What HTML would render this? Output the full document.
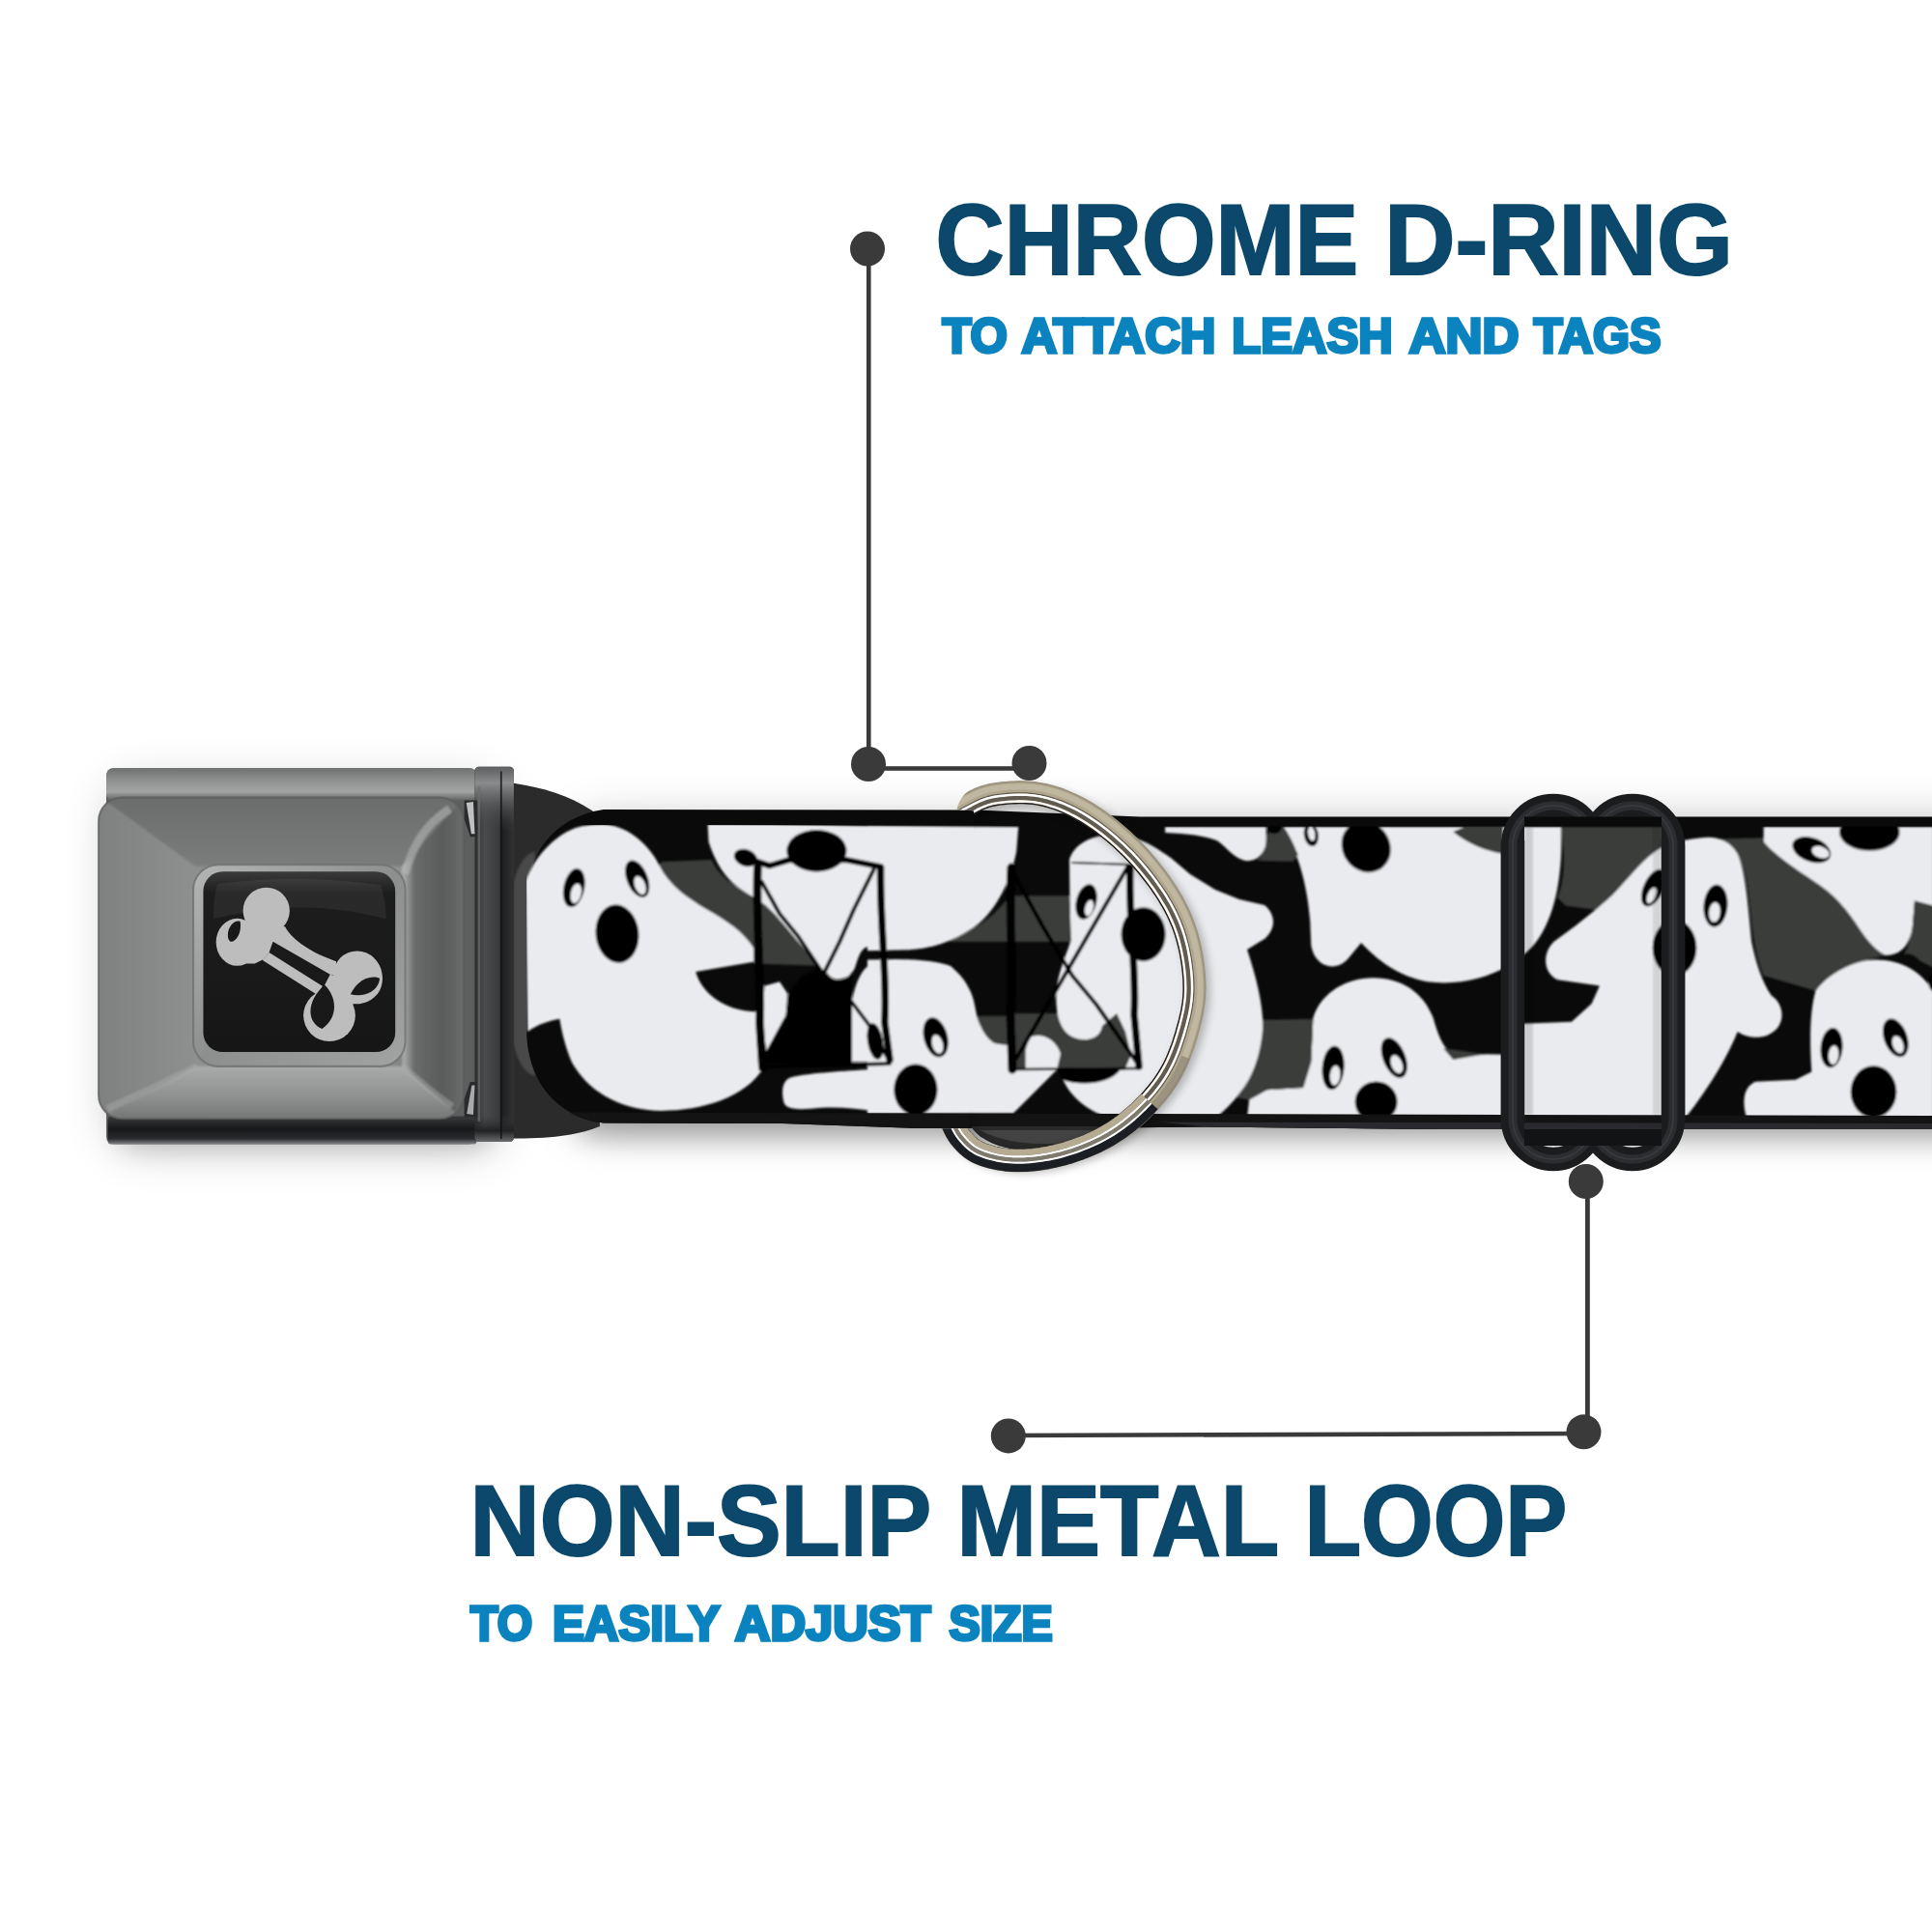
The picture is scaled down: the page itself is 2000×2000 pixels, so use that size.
<!DOCTYPE html>
<html lang="en">
<head>
<meta charset="utf-8">
<title>Chrome D-Ring / Non-Slip Metal Loop</title>
<style>
html,body{margin:0;padding:0;background:#fff;}
body{width:2000px;height:2000px;overflow:hidden;font-family:"Liberation Sans",sans-serif;}
svg{display:block;}
.t1{font-family:"Liberation Sans",sans-serif;font-weight:700;fill:#0b486b;stroke:#0b486b;stroke-width:2px;stroke-linejoin:miter;}
.t2{font-family:"Liberation Sans",sans-serif;font-weight:700;fill:#0a83bf;stroke:#0a83bf;stroke-width:3.4px;stroke-linejoin:miter;}
</style>
</head>
<body>
<svg width="2000" height="2000" viewBox="0 0 2000 2000">
<defs>
<filter id="blur28" x="-20%" y="-60%" width="140%" height="220%"><feGaussianBlur stdDeviation="26"/></filter>
<filter id="blur14" x="-20%" y="-60%" width="140%" height="220%"><feGaussianBlur stdDeviation="13"/></filter>
<filter id="b2" x="-10%" y="-10%" width="120%" height="120%"><feGaussianBlur stdDeviation="1.6"/></filter>
<filter id="b1" x="-10%" y="-10%" width="120%" height="120%"><feGaussianBlur stdDeviation="1.25"/></filter>
<filter id="b4" x="-10%" y="-10%" width="120%" height="120%"><feGaussianBlur stdDeviation="4"/></filter>
<linearGradient id="gTopStrip" x1="0" y1="0" x2="0" y2="1">
<stop offset="0" stop-color="#6f7070"/><stop offset="0.35" stop-color="#8d8e8e"/><stop offset="0.72" stop-color="#a3a4a4"/><stop offset="1" stop-color="#5e5f5f"/>
</linearGradient>
<linearGradient id="gBotStrip" x1="0" y1="0" x2="0" y2="1">
<stop offset="0" stop-color="#3a3b3c"/><stop offset="0.45" stop-color="#17181a"/><stop offset="0.8" stop-color="#2a2b2e"/><stop offset="1" stop-color="#85888c"/>
</linearGradient>
<linearGradient id="gFace" x1="0" y1="0" x2="1" y2="1">
<stop offset="0" stop-color="#8b8c8c"/><stop offset="0.5" stop-color="#909191"/><stop offset="1" stop-color="#7f8080"/>
</linearGradient>
<linearGradient id="gBevT" x1="0" y1="0" x2="0" y2="1">
<stop offset="0" stop-color="#6a6b6b"/><stop offset="1" stop-color="#7b7c7c"/>
</linearGradient>
<linearGradient id="gBevB" x1="0" y1="0" x2="0" y2="1">
<stop offset="0" stop-color="#a9aaaa"/><stop offset="0.55" stop-color="#8e8f8f"/><stop offset="1" stop-color="#6c6d6d"/>
</linearGradient>
<linearGradient id="gBevL" x1="0" y1="0" x2="1" y2="0">
<stop offset="0" stop-color="#7e7f7f"/><stop offset="1" stop-color="#8e8f8f"/>
</linearGradient>
<linearGradient id="gBevR" x1="0" y1="0" x2="1" y2="0">
<stop offset="0" stop-color="#b0b1b1"/><stop offset="0.18" stop-color="#6a6b6b"/><stop offset="0.6" stop-color="#5a5b5b"/><stop offset="1" stop-color="#6f7070"/>
</linearGradient>
<linearGradient id="gConn" x1="0" y1="0" x2="1" y2="0">
<stop offset="0" stop-color="#2a2b2c"/><stop offset="0.25" stop-color="#4a4b4c"/><stop offset="0.62" stop-color="#3b3c3d"/><stop offset="0.7" stop-color="#1d1e1f"/><stop offset="1" stop-color="#303132"/>
</linearGradient>
<linearGradient id="gConnTop" x1="0" y1="0" x2="0" y2="1">
<stop offset="0" stop-color="#5d5e5f"/><stop offset="0.25" stop-color="#8a8b8c"/><stop offset="0.6" stop-color="#5a5b5c" stop-opacity="0.7"/><stop offset="1" stop-color="#3b3c3d" stop-opacity="0"/>
</linearGradient>
<linearGradient id="gConnBot" x1="0" y1="0" x2="0" y2="1">
<stop offset="0" stop-color="#3b3c3d" stop-opacity="0"/><stop offset="0.6" stop-color="#202122"/><stop offset="1" stop-color="#6a6b6d"/>
</linearGradient>
<linearGradient id="gRingIn" x1="0" y1="0" x2="1" y2="1">
<stop offset="0" stop-color="#b4b5b5"/><stop offset="0.5" stop-color="#8d8e8e"/><stop offset="1" stop-color="#a2a3a3"/>
</linearGradient>
<linearGradient id="gBlackSq" x1="0" y1="0" x2="0" y2="1">
<stop offset="0" stop-color="#3a3a3a"/><stop offset="0.12" stop-color="#1d1d1d"/><stop offset="1" stop-color="#161616"/>
</linearGradient>
<clipPath id="padClip"><rect x="85" y="215" width="1460" height="1285" rx="95" ry="95"/></clipPath>
<clipPath id="sliderInner"><rect x="1578" y="845" width="142" height="325"/></clipPath>
<clipPath id="strapClip"><path d="M545,854 L1010,854.5 L1180,855.5 L2000,855.5 L2000,1155 L545,1151.5 Z"/></clipPath>
</defs>
<rect width="2000" height="2000" fill="#ffffff"/>
<g>
<rect x="600" y="856" width="1500" height="306" fill="#000" opacity="0.34" filter="url(#blur28)"/>
<rect x="600" y="1110" width="1500" height="68" fill="#000" opacity="0.22" filter="url(#blur14)"/>
<rect x="118" y="815" width="395" height="370" rx="20" fill="#000" opacity="0.24" filter="url(#blur28)"/>
<rect x="125" y="1130" width="380" height="58" fill="#000" opacity="0.14" filter="url(#blur14)"/>
</g>
<g transform="translate(80,770) scale(0.2588)">
<!-- dark plastic tongue -->
<path d="M1700,150 L1790,165 C1900,185 2010,225 2090,290 L2090,1530 C2000,1565 1900,1582 1700,1578 Z" fill="#2b2b2b"/>
<path d="M1745,560 C1765,470 1800,440 1830,430 L1830,1330 C1800,1320 1765,1290 1745,1200 Z" fill="#4a4a4a" filter="url(#b4)"/>
</g>
<g id="strapArt">
<g>
<!-- strap base (black webbing) -->
<path d="M545,935 C545,885 572,846 625,838 L1010,838.5 L1180,845.5 L2000,845.5 L2000,1169 L1490,1169 L1250,1166.5 L1100,1168 L950,1168 L810,1163 L625,1162.5 C575,1156 545,1118 545,1065 Z" fill="#0a0a0a"/>
<path d="M590,1151.5 L2000,1155 L2000,1169 L1490,1169 L1250,1166.5 L1100,1168 L950,1168 L810,1163 L625,1162.5 C610,1161 598,1157 590,1151.5 Z" fill="#131313"/>
<path d="M1200,1161.5 L2000,1163 L2000,1169 L1490,1169 L1250,1166.5 Z" fill="#2a2a2e"/>
</g>
<g clip-path="url(#strapClip)">
<g filter="url(#b1)">
<!-- WHITES -->
<g fill="#eaebee">
<g transform="translate(540,830) scale(0.20704)">
<path d="M400,112 C520,115 630,200 690,320 C740,420 830,480 930,540 C1020,590 1110,650 1160,730 L1160,800 L870,850 C900,950 1000,1045 1180,1050 L1210,1330 C1120,1480 900,1545 700,1545 C500,1545 330,1450 250,1300 C220,1230 200,1150 190,1085 C140,1095 80,1110 30,1150 L20,400 C60,280 160,170 270,130 C310,118 360,112 400,112 Z"/>
<path d="M1215,920 L1290,900 L1330,960 L1320,1080 L1260,1200 L1225,1250 L1200,1100 Z"/>
<path d="M1940,1330 L1700,1340 C1550,1350 1400,1360 1340,1380 C1300,1400 1300,1450 1310,1500 C1320,1545 1400,1540 1500,1530 C1650,1520 1800,1560 1940,1560 Z"/>
<path d="M930,105 L1940,125 L1940,740 L1760,720 C1700,720 1690,760 1670,820 C1650,890 1560,910 1530,860 L1480,830 L1400,740 C1330,640 1250,530 1180,490 C1100,440 1000,400 935,200 Z"/>
<path d="M1940,790 L1760,800 C1700,830 1670,900 1650,1000 L1650,1300 L1940,1300 Z"/>
</g>
<g transform="translate(900,830) scale(0.20704)">
<path d="M-10,120 L745,125 L735,250 C700,420 620,560 520,630 C420,700 300,735 200,740 L-10,745 Z"/>
<path d="M-10,790 L100,788 C250,785 350,800 406,821 C450,860 475,890 488,915 C515,960 525,1000 531,1040 C540,1090 550,1110 563,1134 C580,1170 600,1190 624,1206 L694,1215 L781,1230 L800,1180 C850,1150 930,1180 956,1259 L937,1340 L719,1558 L-10,1560 Z"/>
</g>
<path fill="#3b3c3b" d="M1050,1049 L1094,1049 L1094,1030 L1150,1030 L1157,1049 L1166,1068 L1172,1092 L1165,1108 L1050,1108 Z"/>
<path d="M1107,890 C1112,872 1135,862 1160,864 C1185,868 1200,880 1212,888 L1232,905 L1258,921 L1283,931 L1309,937 C1320,946 1322,960 1309,972 L1291,983 C1300,1010 1308,1040 1307.6,1068 C1306,1100 1291,1130 1258,1158 L1150,1158 C1125,1150 1108,1135 1100,1117 L1096,1108 L1164,1108 L1171,1092 L1165,1068 L1156,1049 L1141,1062 C1139,1078 1117,1080 1105,1070 C1094,1060 1092,1040 1094,1020 C1098,1000 1105,985 1108,975 Z"/>
<g transform="translate(900,830) scale(0.20704)"><path d="M781,1240 L800,1180 C850,1150 930,1180 956,1259 L937,1340 L781,1340 Z"/></g>

<g transform="translate(1260,830) scale(0.20704)">
<path d="M-260,125 L245,125 L245,205 C235,270 190,300 140,295 C80,280 50,230 0,195 C-60,170 -150,160 -260,155 Z"/>
<path d="M330,125 C400,250 450,400 465,600 L470,720 C490,830 590,850 650,790 L720,705 C800,790 900,870 1050,900 C1250,925 1450,860 1580,720 C1680,600 1730,400 1720,125 Z"/>
<path d="M480,1080 C520,950 650,880 780,880 C920,880 1030,950 1080,1080 C1100,1150 1120,1220 1180,1270 L1340,1262 L1700,1270 L1700,1580 L150,1580 L160,1490 L250,1440 L430,1430 L470,1300 Z"/>
</g>

<g transform="translate(1600,830) scale(0.20704)">
<path d="M600,220 C500,260 420,380 330,470 L250,540 L150,620 L40,700 C-20,760 -10,860 60,890 L270,920 L230,1010 L130,1100 L-120,1110 L-120,1580 L700,1580 C800,1450 900,1300 960,1150 C1000,1180 1100,1200 1160,1130 C1200,1080 1180,1000 1130,970 C1080,900 1050,800 1030,700 C1010,500 1000,350 960,260 C920,190 850,170 780,180 C700,190 640,200 600,220 Z"/>
<path d="M1090,125 L1940,125 L1940,520 L1845,495 L1835,620 C1825,720 1770,770 1700,768 C1640,740 1590,670 1546,601 C1510,550 1470,500 1415,452 C1380,420 1330,390 1265,346 C1200,300 1120,240 1090,200 Z"/>
<path d="M1350,945 C1420,850 1550,790 1650,790 C1780,790 1880,850 1940,950 L1940,1580 L1005,1580 C980,1500 990,1420 1050,1400 L1250,1390 L1330,1350 C1320,1200 1320,1050 1350,945 Z"/>
</g>

</g>
<!-- GREYS -->
<g fill="#3b3c3b">
<g transform="translate(540,830) scale(0.20704)">
<path d="M700,300 L950,290 C1000,400 1100,440 1180,490 C1280,560 1380,700 1480,820 L1160,810 L1160,730 C1110,650 1020,590 930,540 C830,480 740,420 690,320 Z"/>
</g>
<g transform="translate(900,830) scale(0.20704)">
<path d="M700,470 L1000,470 L1010,700 L400,700 C520,650 640,560 700,470 Z"/>
<path d="M536,1071 L694,1071 L694,1215 C660,1215 640,1210 624,1206 C600,1190 580,1170 563,1134 Z"/>

</g>


<g transform="translate(1260,830) scale(0.20704)">
<path d="M245,160 L335,128 C370,180 390,230 405,265 L380,300 L200,295 C235,270 250,220 245,160 Z"/>
<path d="M1180,150 L1250,120 L1430,120 L1430,260 C1350,250 1250,210 1180,150 Z"/>
<path d="M230,1090 L480,1085 L470,1300 L430,1430 L250,1440 L160,1490 L100,1480 C180,1380 225,1250 230,1090 Z"/>
<path d="M1130,1232 L1340,1262 L1180,1290 Z"/>
</g>

<g transform="translate(1600,830) scale(0.20704)">
<path d="M80,125 L600,125 L600,220 C500,260 420,380 330,470 L250,540 L100,520 L60,480 C90,400 100,300 80,125 Z"/>
<path d="M870,185 L1090,180 L1090,200 C1120,240 1200,300 1265,346 C1330,390 1380,420 1415,452 C1470,500 1510,550 1546,601 C1590,670 1640,740 1700,770 C1550,790 1420,850 1350,945 L1090,870 C1060,800 1040,700 1030,600 C1015,450 1000,330 960,260 C940,220 900,195 870,185 Z"/>
<path d="M1845,495 L1940,520 L1940,830 L1880,800 C1850,780 1830,750 1790,765 C1820,720 1835,650 1835,620 Z"/>
</g>

</g>
<!-- BLACKS -->
<g fill="#050505" stroke="#050505" stroke-width="0">
<g transform="translate(540,830) scale(0.20704)">
<ellipse cx="262" cy="430" rx="52" ry="98" transform="rotate(12 262 430)"/>
<ellipse cx="578" cy="385" rx="52" ry="98" transform="rotate(-22 578 385)"/>
<ellipse cx="478" cy="660" rx="108" ry="146" transform="rotate(-6 478 660)"/>
<ellipse cx="272" cy="458" rx="26" ry="50" transform="rotate(12 272 458)" fill="#eaebee"/>
<ellipse cx="592" cy="418" rx="26" ry="48" transform="rotate(-22 592 418)" fill="#eaebee"/>
<ellipse cx="1475" cy="245" rx="150" ry="105"/>
<ellipse cx="1120" cy="280" rx="60" ry="42" transform="rotate(20 1120 280)"/>
<path d="M1335,960 L1400,870 L1480,835 L1530,865 C1560,905 1620,905 1650,850 L1650,1310 L1200,1310 L1230,1255 L1265,1200 L1320,1080 Z"/>
<g fill="none" stroke-linecap="round" stroke-linejoin="round">
<path d="M1180,330 C1170,600 1200,900 1190,1100 L1205,1330" stroke-width="42"/>
<path d="M1795,330 C1790,600 1830,900 1815,1100 L1840,1290" stroke-width="36"/>
<path d="M1120,280 L1240,320 L1340,290 L1620,290 L1795,325" stroke-width="30"/>
<path d="M1205,1325 L1840,1310" stroke-width="18"/>
<path d="M1200,400 L1290,560 L1380,670 L1500,850" stroke-width="20"/>
<path d="M1760,340 L1660,540 L1590,700 L1515,850" stroke-width="20"/>
<path d="M1650,1000 L1740,1120 L1830,1280" stroke-width="18"/>
<path d="M1320,1080 L1225,1255" stroke-width="12"/>
</g>
</g>
<ellipse cx="947.9" cy="1128.1" rx="22.6" ry="26.5"/>
<ellipse cx="968.6" cy="1073.8" rx="12.3" ry="21" transform="rotate(-15 968.6 1073.8)"/>
<ellipse cx="970.5" cy="1081" rx="5.5" ry="10" transform="rotate(-15 970.5 1081)" fill="#eaebee"/>
<ellipse cx="906" cy="1078" rx="8" ry="19" transform="rotate(-10 906 1078)"/>
<ellipse cx="1124.5" cy="933.5" rx="10.5" ry="18.5" transform="rotate(14 1124.5 933.5)"/>
<ellipse cx="1127.5" cy="940" rx="4.2" ry="8.5" transform="rotate(14 1127.5 940)" fill="#eaebee"/>
<ellipse cx="1183.6" cy="967.2" rx="23" ry="28"/>
<path d="M1094,1107 L1160,1107 C1150,1122 1120,1125 1100,1118 Z"/>
<g fill="none" stroke-linecap="round" stroke-linejoin="round">
<path d="M1047,898 C1044,950 1050,1010 1046,1050 L1048,1107" stroke-width="9"/>
<path d="M1170,898 C1168,950 1177,1010 1174,1050 L1179,1104" stroke-width="7.5"/>
<path d="M1110,893 L1170,895" stroke-width="2.2"/>
<path d="M1048,1107 L1178,1106" stroke-width="2.6"/>
<path d="M1048,902 L1080,960 L1110,1010 L1135,1040 L1177,1100" stroke-width="4.2"/>
<path d="M1167,898 L1052,1096" stroke-width="4.2"/>
</g>

<g transform="translate(1260,830) scale(0.20704)">
<ellipse cx="745" cy="225" rx="118" ry="132" transform="rotate(-35 745 225)"/>
<ellipse cx="470" cy="165" rx="36" ry="58" transform="rotate(-10 470 165)"/>
<ellipse cx="472" cy="160" rx="17" ry="36" transform="rotate(-10 472 160)" fill="#eaebee"/>
<ellipse cx="285" cy="135" rx="35" ry="25"/>
<ellipse cx="580" cy="1330" rx="55" ry="110" transform="rotate(5 580 1330)"/>
<ellipse cx="590" cy="1368" rx="25" ry="50" transform="rotate(5 590 1368)" fill="#eaebee"/>
<ellipse cx="885" cy="1280" rx="56" ry="106" transform="rotate(-22 885 1280)"/>
<ellipse cx="898" cy="1312" rx="27" ry="48" transform="rotate(-22 898 1312)" fill="#eaebee"/>
<ellipse cx="795" cy="1500" rx="106" ry="102"/>
</g>

<g transform="translate(1600,830) scale(0.20704)">
<ellipse cx="540" cy="430" rx="50" ry="100" transform="rotate(25 540 430)"/>
<ellipse cx="530" cy="468" rx="20" ry="42" transform="rotate(25 530 468)" fill="#eaebee"/>
<ellipse cx="850" cy="520" rx="60" ry="106" transform="rotate(5 850 520)"/>
<ellipse cx="845" cy="552" rx="28" ry="50" transform="rotate(5 845 552)" fill="#eaebee"/>
<ellipse cx="645" cy="730" rx="110" ry="140"/>
<ellipse cx="1330" cy="240" rx="100" ry="60" transform="rotate(20 1330 240)"/>
<ellipse cx="1375" cy="252" rx="46" ry="28" transform="rotate(20 1375 252)" fill="#eaebee"/>
<ellipse cx="1620" cy="150" rx="150" ry="95"/>
<ellipse cx="1430" cy="1230" rx="55" ry="100" transform="rotate(5 1430 1230)"/>
<ellipse cx="1440" cy="1266" rx="25" ry="48" transform="rotate(5 1440 1266)" fill="#eaebee"/>
<ellipse cx="1750" cy="1180" rx="58" ry="100" transform="rotate(-20 1750 1180)"/>
<ellipse cx="1762" cy="1214" rx="26" ry="45" transform="rotate(-20 1762 1214)" fill="#eaebee"/>
<ellipse cx="1640" cy="1450" rx="115" ry="130"/>
<ellipse cx="1945" cy="905" rx="30" ry="45"/>
</g>

</g>
</g>
</g>
</g>
<g transform="translate(80,770) scale(0.2588)">
<!-- back plate -->
<rect x="116" y="98" width="1482" height="1504" rx="30" fill="#5d5e5e"/>
<rect x="116" y="98" width="1482" height="130" rx="26" fill="url(#gTopStrip)"/>
<rect x="122" y="1490" width="1476" height="112" rx="14" fill="url(#gBotStrip)"/>
<!-- connector -->
<rect x="1590" y="92" width="156" height="1500" rx="16" fill="url(#gConn)"/>
<rect x="1590" y="92" width="156" height="260" rx="16" fill="url(#gConnTop)"/>
<rect x="1590" y="1480" width="156" height="112" rx="16" fill="url(#gConnBot)"/>
<rect x="1602" y="170" width="10" height="1340" fill="#6d6e6f" opacity="0.7"/>
<rect x="1692" y="110" width="7" height="1470" fill="#111" opacity="0.8"/>
<!-- front pad -->
<g clip-path="url(#padClip)">
<rect x="85" y="215" width="1460" height="1285" fill="url(#gFace)"/>
<g filter="url(#b4)">
<polygon points="60,190 1570,190 1300,490 470,490" fill="url(#gBevT)"/>
<polygon points="60,1525 470,1290 1300,1290 1570,1525" fill="url(#gBevB)"/>
<polygon points="60,190 470,490 470,1290 60,1525" fill="url(#gBevL)"/>
<polygon points="1570,190 1300,490 1300,1290 1570,1525" fill="url(#gBevR)"/>
</g>
<path d="M1490,260 C1380,330 1340,420 1310,520" stroke="#b9baba" stroke-width="34" fill="none" opacity="0.55" filter="url(#b4)"/>
<path d="M120,1460 C300,1380 400,1330 480,1290" stroke="#a8a9a9" stroke-width="30" fill="none" opacity="0.5" filter="url(#b4)"/>
<path d="M1500,1450 C1400,1380 1350,1330 1300,1290" stroke="#b0b1b1" stroke-width="26" fill="none" opacity="0.45" filter="url(#b4)"/>
</g>
<rect x="85" y="215" width="1460" height="1285" rx="95" fill="none" stroke="#5a5b5b" stroke-width="8" opacity="0.7"/>
<path d="M1548,226 L1600,226 L1600,372 L1572,372 L1548,300 Z" fill="#2a2b2c"/>
<path d="M1556,236 L1584,232 L1590,360 L1576,360 Z" fill="#d9dada" opacity="0.85" filter="url(#b1)"/>
<path d="M1548,1492 L1600,1492 L1600,1352 L1572,1352 L1548,1420 Z" fill="#2a2b2c"/>
<path d="M1558,1480 L1584,1484 L1590,1366 L1578,1366 Z" fill="#c9caca" opacity="0.8" filter="url(#b1)"/>
<!-- recess ring + black square -->
<rect x="464" y="484" width="848" height="806" rx="100" fill="url(#gRingIn)"/>
<rect x="464" y="484" width="848" height="806" rx="100" fill="none" stroke="#6f7070" stroke-width="8" opacity="0.8"/>
<rect x="504" y="511" width="768" height="722" rx="78" fill="url(#gBlackSq)"/>
<path d="M560,560 C800,530 1000,535 1215,565 C1230,620 1235,650 1235,700 C1000,640 800,640 545,700 C545,650 548,610 560,560 Z" fill="#fff" opacity="0.06"/>
</g>
<!-- bone icon -->
<g transform="translate(200,895) scale(0.11387)">
<g fill="#bdbdbd" stroke="none">
<circle cx="665" cy="420" r="212"/>
<ellipse cx="400" cy="705" rx="192" ry="215"/>
<path d="M430,520 L835,565 C900,690 1090,810 1300,880 L1300,1010 L1245,1000 L725,700 L690,800 L640,860 L560,900 L420,900 Z"/>
<path d="M690,800 L1175,1105 L1130,1185 L630,870 Z"/>
<circle cx="1490" cy="1000" r="215"/>
<path d="M1650,860 C1730,930 1745,1080 1680,1170 C1620,1250 1520,1280 1440,1262 L1400,1100 Z"/>
<circle cx="1238" cy="1372" r="236"/>
<path d="M1245,1000 L1320,1020 L1330,1220 L1270,1200 L1195,1095 Z"/>
<path d="M1290,1080 L1445,1170 L1455,1275 L1320,1240 Z"/>
</g>
<g fill="#191919">
<path d="M428,518 C385,498 315,555 315,640 C315,685 335,708 360,698 C410,676 440,600 428,518 Z"/>
<path d="M1430,1180 C1495,1040 1620,1000 1695,1035 C1690,1140 1565,1215 1430,1180 Z"/>
<path d="M1195,1095 C1305,1200 1325,1385 1172,1492 C1040,1445 1015,1250 1195,1095 Z"/>
</g>
</g>
<!-- dark area inside the ring below strap -->
<path d="M1005,1166 L1175,1166 C1160,1182 1120,1192 1075,1192 C1040,1192 1015,1182 1005,1166 Z" fill="#2a2a2a"/>
<path d="M1015,1170 L1165,1170 C1150,1178 1120,1184 1080,1184 C1050,1184 1028,1178 1015,1170 Z" fill="#4e4e4e" opacity="0.7"/>
<clipPath id="ringClip"><path d="M990.5,838 C992.5,827 1001,817 1016,810.5 L1016,780 L1300,780 L1300,1260 L940,1260 L940,1168.3 L1003,1168.3 L1003,1000 L1008,1000 L1008,839.5 Z"/></clipPath>
<g clip-path="url(#ringClip)"><g fill="none" stroke-linecap="butt" stroke-linejoin="round">
<path d="M973.5,859.3 L974.5,858.1 L975.5,856.9 L976.5,855.6 L977.4,854.4 L978.4,853.2 L979.3,852.0 L980.3,850.9 L981.2,849.7 L982.2,848.6 L983.2,847.5 L984.3,846.5 L985.3,845.5 L986.4,844.6 L987.6,843.7 L988.7,842.8 L989.8,842.0 L991.0,841.2 L992.2,840.4 L993.5,839.6 L994.8,838.9 L996.3,838.1 L997.8,837.3 L999.4,836.4 L1001.2,835.5 L1003.0,834.6 L1004.9,833.6 L1006.9,832.6 L1008.9,831.5 L1011.0,830.5 L1013.2,829.5 L1015.4,828.5 L1017.8,827.5 L1020.3,826.7 L1022.9,825.9 L1025.6,825.2 L1028.6,824.6 L1031.8,824.1 L1035.2,823.6 L1038.8,823.2 L1042.5,822.9 L1046.4,822.6 L1050.4,822.4 L1054.4,822.3 L1058.4,822.3 L1062.5,822.4 L1066.5,822.7 L1070.4,823.1 L1074.3,823.7 L1078.2,824.4 L1082.0,825.3 L1085.8,826.3 L1089.6,827.4 L1093.5,828.6 L1097.3,830.0 L1101.1,831.5 L1105.0,833.1 L1108.8,834.9 L1112.6,836.8 L1116.5,838.8 L1120.3,840.9 L1124.2,843.2 L1128.1,845.7 L1132.0,848.3 L1136.0,851.0 L1139.9,853.9 L1143.9,856.9 L1147.8,860.0 L1151.6,863.1 L1155.5,866.4 L1159.2,869.7 L1162.9,873.1 L1166.5,876.5 L1170.0,880.0 L1173.5,883.6 L1176.9,887.3 L1180.4,891.1 L1183.7,895.0 L1187.0,898.9 L1190.2,902.9 L1193.3,906.9 L1196.3,910.9 L1199.2,914.8 L1201.9,918.8 L1204.5,922.7 L1207.0,926.5 L1209.3,930.3 L1211.5,934.0 L1213.6,937.8 L1215.6,941.5 L1217.4,945.3 L1219.2,949.1 L1220.8,952.9 L1222.4,956.7 L1223.9,960.7 L1225.2,964.7 L1226.5,968.9 L1227.7,973.1 L1228.8,977.5 L1229.9,982.0 L1230.8,986.6 L1231.6,991.2 L1232.4,995.9 L1233.0,1000.6 L1233.5,1005.2 L1234.0,1009.8 L1234.3,1014.3 L1234.4,1018.6 L1234.5,1022.9 L1234.4,1027.0 L1234.2,1031.1 L1233.9,1035.1 L1233.4,1039.0 L1232.8,1042.8 L1232.1,1046.6 L1231.3,1050.4 L1230.5,1054.2 L1229.6,1057.9 L1228.6,1061.6 L1227.6,1065.3 L1226.5,1069.0 L1225.5,1072.8 L1224.3,1076.5 L1223.1,1080.1 L1221.9,1083.8 L1220.5,1087.4 L1219.1,1091.0 L1217.7,1094.6 L1216.2,1098.1 L1214.5,1101.6 L1212.9,1105.0 L1211.1,1108.4 L1209.2,1111.6 L1207.2,1114.9 L1205.2,1118.1 L1203.0,1121.2 L1200.8,1124.3 L1198.5,1127.4 L1196.1,1130.4 L1193.6,1133.3 L1191.1,1136.2 L1188.5,1139.1 L1185.9,1141.9 L1183.2,1144.6 L1180.5,1147.3 L1177.7,1150.0 L1174.9,1152.5 L1172.0,1155.1 L1169.1,1157.6 L1166.1,1160.0 L1163.1,1162.4 L1160.0,1164.7 L1156.8,1166.9 L1153.6,1169.1 L1150.3,1171.2 L1147.0,1173.2 L1143.6,1175.2 L1140.0,1177.1 L1136.4,1179.0 L1132.7,1180.7 L1128.9,1182.5 L1125.0,1184.1 L1121.1,1185.7 L1117.2,1187.2 L1113.2,1188.7 L1109.3,1190.0 L1105.3,1191.3 L1101.4,1192.4 L1097.5,1193.5 L1093.6,1194.5 L1089.7,1195.4 L1085.7,1196.2 L1081.8,1196.9 L1077.8,1197.5 L1073.9,1198.1 L1070.0,1198.5 L1066.1,1198.9 L1062.3,1199.2 L1058.6,1199.4 L1055.0,1199.4 L1051.5,1199.4 L1048.0,1199.3 L1044.7,1199.1 L1041.3,1198.7 L1038.0,1198.3 L1034.8,1197.8 L1031.6,1197.1 L1028.6,1196.4 L1025.6,1195.7 L1022.8,1194.9 L1020.1,1194.0 L1017.5,1193.1 L1015.1,1192.1 L1012.9,1191.1 L1010.8,1190.0 L1008.9,1188.9 L1007.1,1187.6 L1005.4,1186.4 L1003.9,1185.0 L1002.3,1183.6 L1000.9,1182.2 L999.5,1180.7 L998.2,1179.3 L996.9,1177.7 L995.6,1176.2 L994.4,1174.7 L993.4,1173.2 L992.4,1171.6 L991.5,1170.0 L990.6,1168.3 L989.8,1166.6 L988.9,1164.9 L988.1,1163.1 L987.3,1161.4 L986.5,1159.6 L985.7,1157.9 L984.8,1156.1" stroke="#000" stroke-width="24" opacity="0.25" filter="url(#b4)" transform="translate(6,3)"/>
<path d="M972.0,858.0 L973.0,856.8 L973.9,855.6 L974.9,854.4 L975.8,853.2 L976.8,852.0 L977.7,850.8 L978.7,849.6 L979.7,848.4 L980.7,847.3 L981.8,846.1 L982.9,845.1 L984.0,844.0 L985.2,843.1 L986.3,842.1 L987.5,841.2 L988.7,840.4 L989.9,839.5 L991.1,838.7 L992.5,837.9 L993.8,837.1 L995.3,836.3 L996.9,835.5 L998.5,834.6 L1000.3,833.8 L1002.1,832.8 L1004.0,831.8 L1006.0,830.8 L1008.0,829.8 L1010.1,828.7 L1012.3,827.6 L1014.6,826.6 L1017.1,825.7 L1019.6,824.8 L1022.3,824.0 L1025.2,823.3 L1028.3,822.7 L1031.5,822.1 L1034.9,821.7 L1038.6,821.2 L1042.3,820.9 L1046.3,820.6 L1050.3,820.4 L1054.4,820.3 L1058.5,820.3 L1062.6,820.4 L1066.7,820.7 L1070.7,821.1 L1074.7,821.7 L1078.6,822.5 L1082.5,823.3 L1086.4,824.3 L1090.2,825.5 L1094.1,826.7 L1098.0,828.1 L1101.9,829.7 L1105.8,831.3 L1109.7,833.1 L1113.5,835.0 L1117.4,837.0 L1121.3,839.2 L1125.2,841.5 L1129.2,844.0 L1133.2,846.6 L1137.1,849.4 L1141.1,852.3 L1145.1,855.3 L1149.0,858.4 L1152.9,861.6 L1156.8,864.9 L1160.5,868.2 L1164.2,871.6 L1167.9,875.1 L1171.4,878.6 L1174.9,882.2 L1178.4,886.0 L1181.9,889.8 L1185.2,893.7 L1188.6,897.7 L1191.8,901.7 L1194.9,905.7 L1197.9,909.7 L1200.8,913.7 L1203.6,917.6 L1206.2,921.6 L1208.7,925.4 L1211.0,929.3 L1213.2,933.0 L1215.3,936.8 L1217.3,940.6 L1219.2,944.4 L1221.0,948.2 L1222.7,952.1 L1224.3,956.0 L1225.7,960.0 L1227.1,964.1 L1228.4,968.3 L1229.7,972.6 L1230.8,977.0 L1231.8,981.6 L1232.8,986.2 L1233.6,990.9 L1234.4,995.6 L1235.0,1000.3 L1235.5,1005.0 L1236.0,1009.6 L1236.3,1014.2 L1236.4,1018.6 L1236.5,1022.9 L1236.4,1027.1 L1236.2,1031.2 L1235.8,1035.3 L1235.4,1039.2 L1234.8,1043.1 L1234.1,1047.0 L1233.3,1050.8 L1232.4,1054.6 L1231.5,1058.4 L1230.5,1062.1 L1229.5,1065.9 L1228.5,1069.6 L1227.4,1073.3 L1226.2,1077.1 L1225.0,1080.8 L1223.7,1084.5 L1222.4,1088.1 L1221.0,1091.8 L1219.5,1095.4 L1218.0,1098.9 L1216.3,1102.5 L1214.6,1105.9 L1212.8,1109.3 L1210.9,1112.7 L1208.9,1115.9 L1206.8,1119.2 L1204.7,1122.4 L1202.4,1125.5 L1200.1,1128.6 L1197.6,1131.6 L1195.1,1134.6 L1192.6,1137.6 L1190.0,1140.5 L1187.3,1143.3 L1184.6,1146.0 L1181.9,1148.8 L1179.1,1151.4 L1176.2,1154.0 L1173.3,1156.6 L1170.4,1159.1 L1167.4,1161.6 L1164.3,1164.0 L1161.2,1166.3 L1158.0,1168.6 L1154.7,1170.8 L1151.4,1172.9 L1148.0,1175.0 L1144.5,1177.0 L1141.0,1178.9 L1137.3,1180.7 L1133.5,1182.6 L1129.7,1184.3 L1125.8,1186.0 L1121.9,1187.6 L1117.9,1189.1 L1113.9,1190.6 L1109.9,1191.9 L1105.9,1193.2 L1101.9,1194.4 L1098.0,1195.4 L1094.1,1196.4 L1090.1,1197.3 L1086.1,1198.1 L1082.1,1198.9 L1078.1,1199.5 L1074.1,1200.1 L1070.2,1200.5 L1066.3,1200.9 L1062.5,1201.2 L1058.7,1201.4 L1055.0,1201.4 L1051.5,1201.4 L1047.9,1201.3 L1044.5,1201.1 L1041.1,1200.7 L1037.7,1200.3 L1034.4,1199.7 L1031.2,1199.1 L1028.1,1198.4 L1025.1,1197.6 L1022.2,1196.8 L1019.4,1195.9 L1016.8,1194.9 L1014.3,1194.0 L1012.0,1192.9 L1009.9,1191.8 L1007.8,1190.5 L1006.0,1189.3 L1004.2,1187.9 L1002.5,1186.5 L1001.0,1185.1 L999.5,1183.6 L998.0,1182.1 L996.7,1180.6 L995.3,1179.0 L994.1,1177.5 L992.8,1175.9 L991.7,1174.3 L990.7,1172.6 L989.7,1170.9 L988.8,1169.2 L987.9,1167.5 L987.1,1165.7 L986.3,1164.0 L985.5,1162.2 L984.7,1160.5 L983.9,1158.7 L983.0,1157.0" stroke="#b1a78f" stroke-width="23.4"/>
<path d="M967.4,854.2 L968.3,853.0 L969.3,851.9 L970.2,850.7 L971.1,849.5 L972.1,848.3 L973.1,847.0 L974.1,845.7 L975.2,844.5 L976.3,843.2 L977.5,841.9 L978.8,840.7 L980.0,839.5 L981.3,838.4 L982.6,837.4 L983.9,836.4 L985.2,835.5 L986.6,834.5 L988.0,833.7 L989.4,832.8 L990.9,831.9 L992.4,831.0 L994.1,830.2 L995.8,829.3 L997.5,828.4 L999.4,827.5 L1001.2,826.5 L1003.2,825.5 L1005.3,824.4 L1007.5,823.3 L1009.8,822.2 L1012.3,821.1 L1015.0,820.0 L1017.8,819.1 L1020.8,818.2 L1023.9,817.4 L1027.2,816.8 L1030.6,816.2 L1034.2,815.7 L1037.9,815.3 L1041.8,814.9 L1045.9,814.6 L1050.0,814.4 L1054.3,814.3 L1058.6,814.3 L1062.9,814.4 L1067.2,814.7 L1071.5,815.2 L1075.7,815.8 L1079.8,816.6 L1083.9,817.5 L1087.9,818.6 L1092.0,819.7 L1096.1,821.1 L1100.1,822.5 L1104.2,824.1 L1108.2,825.8 L1112.2,827.7 L1116.2,829.7 L1120.3,831.8 L1124.3,834.0 L1128.4,836.4 L1132.4,839.0 L1136.5,841.7 L1140.6,844.5 L1144.7,847.5 L1148.8,850.6 L1152.8,853.7 L1156.8,857.0 L1160.7,860.4 L1164.6,863.8 L1168.3,867.2 L1172.0,870.8 L1175.7,874.4 L1179.3,878.1 L1182.8,881.9 L1186.4,885.8 L1189.8,889.8 L1193.2,893.8 L1196.5,897.9 L1199.7,902.0 L1202.8,906.1 L1205.7,910.2 L1208.5,914.3 L1211.2,918.3 L1213.8,922.2 L1216.2,926.2 L1218.4,930.1 L1220.6,934.0 L1222.7,937.9 L1224.6,941.8 L1226.5,945.8 L1228.2,949.8 L1229.8,953.9 L1231.4,958.0 L1232.8,962.2 L1234.2,966.6 L1235.4,971.0 L1236.6,975.6 L1237.7,980.3 L1238.7,985.1 L1239.5,989.9 L1240.3,994.7 L1241.0,999.6 L1241.5,1004.4 L1241.9,1009.1 L1242.3,1013.8 L1242.4,1018.4 L1242.5,1022.9 L1242.4,1027.3 L1242.2,1031.6 L1241.8,1035.9 L1241.3,1040.0 L1240.7,1044.1 L1240.0,1048.1 L1239.2,1052.1 L1238.3,1056.0 L1237.3,1059.8 L1236.3,1063.7 L1235.3,1067.5 L1234.2,1071.3 L1233.1,1075.1 L1231.9,1078.9 L1230.7,1082.7 L1229.4,1086.5 L1228.0,1090.2 L1226.6,1094.0 L1225.1,1097.7 L1223.5,1101.4 L1221.8,1105.1 L1220.0,1108.7 L1218.1,1112.2 L1216.1,1115.7 L1214.0,1119.1 L1211.8,1122.5 L1209.6,1125.8 L1207.2,1129.1 L1204.8,1132.3 L1202.3,1135.4 L1199.7,1138.5 L1197.1,1141.6 L1194.4,1144.5 L1191.7,1147.4 L1188.9,1150.3 L1186.0,1153.1 L1183.2,1155.8 L1180.2,1158.5 L1177.3,1161.1 L1174.2,1163.7 L1171.1,1166.2 L1167.9,1168.7 L1164.7,1171.1 L1161.4,1173.5 L1158.0,1175.8 L1154.6,1178.0 L1151.1,1180.1 L1147.4,1182.2 L1143.8,1184.2 L1140.0,1186.1 L1136.1,1188.0 L1132.1,1189.8 L1128.1,1191.5 L1124.1,1193.2 L1120.0,1194.7 L1115.9,1196.2 L1111.8,1197.6 L1107.7,1198.9 L1103.6,1200.1 L1099.5,1201.2 L1095.5,1202.3 L1091.4,1203.2 L1087.3,1204.0 L1083.1,1204.8 L1079.0,1205.4 L1074.9,1206.0 L1070.8,1206.5 L1066.8,1206.9 L1062.8,1207.2 L1058.9,1207.3 L1055.1,1207.4 L1051.3,1207.4 L1047.6,1207.3 L1044.0,1207.0 L1040.4,1206.7 L1036.8,1206.2 L1033.4,1205.6 L1030.0,1205.0 L1026.7,1204.2 L1023.5,1203.4 L1020.4,1202.5 L1017.5,1201.6 L1014.7,1200.6 L1012.0,1199.5 L1009.4,1198.3 L1006.9,1197.0 L1004.6,1195.6 L1002.5,1194.1 L1000.4,1192.6 L998.6,1191.0 L996.8,1189.4 L995.2,1187.8 L993.6,1186.2 L992.2,1184.6 L990.7,1182.9 L989.4,1181.2 L988.0,1179.4 L986.7,1177.6 L985.5,1175.7 L984.4,1173.8 L983.4,1171.9 L982.5,1170.1 L981.7,1168.3 L980.9,1166.5 L980.1,1164.7 L979.3,1163.1 L978.5,1161.4 L977.6,1159.7" stroke="#c0b7a0" stroke-width="6"/>
<path d="M963.5,851.0 L964.4,849.9 L965.3,848.7 L966.2,847.6 L967.2,846.4 L968.1,845.2 L969.2,843.9 L970.2,842.6 L971.4,841.2 L972.6,839.8 L973.9,838.4 L975.3,837.1 L976.7,835.8 L978.1,834.6 L979.5,833.5 L980.9,832.4 L982.3,831.4 L983.8,830.4 L985.3,829.4 L986.8,828.5 L988.4,827.6 L990.1,826.6 L991.8,825.7 L993.5,824.8 L995.3,824.0 L997.1,823.0 L998.9,822.1 L1000.9,821.1 L1003.0,820.0 L1005.3,818.8 L1007.8,817.6 L1010.4,816.5 L1013.2,815.4 L1016.3,814.3 L1019.5,813.4 L1022.8,812.5 L1026.3,811.8 L1029.9,811.3 L1033.6,810.7 L1037.4,810.3 L1041.4,809.9 L1045.6,809.6 L1049.9,809.4 L1054.2,809.3 L1058.7,809.3 L1063.1,809.4 L1067.6,809.7 L1072.1,810.2 L1076.5,810.9 L1080.8,811.7 L1085.1,812.6 L1089.3,813.7 L1093.5,815.0 L1097.7,816.3 L1101.9,817.8 L1106.0,819.5 L1110.2,821.3 L1114.4,823.2 L1118.5,825.2 L1122.7,827.4 L1126.8,829.7 L1131.0,832.1 L1135.1,834.8 L1139.3,837.5 L1143.5,840.4 L1147.7,843.5 L1151.8,846.6 L1155.9,849.8 L1160.0,853.2 L1164.0,856.6 L1167.9,860.0 L1171.8,863.6 L1175.5,867.2 L1179.2,870.9 L1182.9,874.7 L1186.5,878.5 L1190.1,882.5 L1193.6,886.6 L1197.1,890.7 L1200.4,894.8 L1203.7,899.0 L1206.8,903.2 L1209.8,907.3 L1212.7,911.5 L1215.4,915.5 L1218.0,919.6 L1220.4,923.6 L1222.8,927.6 L1225.0,931.6 L1227.1,935.6 L1229.1,939.6 L1231.0,943.7 L1232.8,947.9 L1234.5,952.1 L1236.1,956.3 L1237.6,960.7 L1239.0,965.2 L1240.3,969.8 L1241.5,974.5 L1242.6,979.3 L1243.6,984.1 L1244.5,989.0 L1245.2,994.0 L1245.9,998.9 L1246.5,1003.9 L1246.9,1008.8 L1247.2,1013.6 L1247.4,1018.3 L1247.5,1022.9 L1247.4,1027.5 L1247.2,1032.0 L1246.8,1036.4 L1246.3,1040.7 L1245.6,1044.9 L1244.9,1049.1 L1244.1,1053.1 L1243.2,1057.1 L1242.2,1061.1 L1241.2,1065.0 L1240.1,1068.8 L1239.0,1072.7 L1237.9,1076.5 L1236.7,1080.4 L1235.4,1084.3 L1234.1,1088.1 L1232.7,1092.0 L1231.2,1095.8 L1229.7,1099.7 L1228.0,1103.5 L1226.3,1107.2 L1224.4,1110.9 L1222.5,1114.6 L1220.4,1118.2 L1218.3,1121.8 L1216.0,1125.3 L1213.7,1128.7 L1211.2,1132.1 L1208.7,1135.3 L1206.2,1138.6 L1203.5,1141.8 L1200.8,1144.9 L1198.1,1147.9 L1195.3,1150.9 L1192.4,1153.8 L1189.5,1156.7 L1186.6,1159.5 L1183.6,1162.2 L1180.5,1164.9 L1177.4,1167.6 L1174.2,1170.2 L1171.0,1172.7 L1167.6,1175.2 L1164.2,1177.6 L1160.8,1179.9 L1157.2,1182.2 L1153.6,1184.4 L1149.9,1186.6 L1146.1,1188.6 L1142.2,1190.6 L1138.2,1192.5 L1134.2,1194.4 L1130.0,1196.1 L1125.9,1197.8 L1121.7,1199.4 L1117.5,1200.9 L1113.3,1202.4 L1109.1,1203.7 L1105.0,1204.9 L1100.8,1206.1 L1096.6,1207.1 L1092.4,1208.1 L1088.2,1208.9 L1084.0,1209.7 L1079.8,1210.4 L1075.5,1211.0 L1071.4,1211.5 L1067.2,1211.9 L1063.1,1212.2 L1059.1,1212.3 L1055.1,1212.4 L1051.2,1212.4 L1047.4,1212.3 L1043.6,1212.0 L1039.8,1211.6 L1036.1,1211.1 L1032.5,1210.6 L1029.0,1209.9 L1025.5,1209.1 L1022.2,1208.2 L1019.0,1207.3 L1015.9,1206.3 L1012.9,1205.2 L1010.0,1204.1 L1007.2,1202.8 L1004.5,1201.3 L1001.9,1199.8 L999.5,1198.2 L997.3,1196.5 L995.3,1194.8 L993.4,1193.0 L991.6,1191.3 L990.0,1189.6 L988.4,1187.9 L986.9,1186.1 L985.4,1184.3 L984.0,1182.4 L982.5,1180.4 L981.2,1178.3 L980.0,1176.2 L979.0,1174.2 L978.0,1172.2 L977.1,1170.4 L976.3,1168.6 L975.5,1166.8 L974.8,1165.2 L974.0,1163.6 L973.2,1161.9" stroke="#9d947f" stroke-width="2"/>
<path d="M972.5,858.4 L973.4,857.2 L974.4,856.0 L975.4,854.8 L976.3,853.6 L977.3,852.4 L978.2,851.1 L979.2,850.0 L980.2,848.8 L981.2,847.7 L982.2,846.6 L983.3,845.5 L984.4,844.5 L985.5,843.5 L986.7,842.6 L987.9,841.7 L989.0,840.9 L990.2,840.0 L991.5,839.2 L992.8,838.4 L994.1,837.7 L995.6,836.8 L997.1,836.0 L998.8,835.2 L1000.5,834.3 L1002.4,833.4 L1004.3,832.4 L1006.2,831.3 L1008.3,830.3 L1010.4,829.2 L1012.6,828.2 L1014.9,827.2 L1017.3,826.2 L1019.8,825.3 L1022.5,824.5 L1025.3,823.9 L1028.4,823.2 L1031.6,822.7 L1035.0,822.3 L1038.6,821.8 L1042.4,821.5 L1046.3,821.2 L1050.3,821.0 L1054.4,820.9 L1058.5,820.9 L1062.6,821.0 L1066.6,821.3 L1070.6,821.7 L1074.6,822.3 L1078.5,823.0 L1082.3,823.9 L1086.2,824.9 L1090.1,826.1 L1093.9,827.3 L1097.8,828.7 L1101.7,830.2 L1105.5,831.9 L1109.4,833.6 L1113.3,835.5 L1117.1,837.6 L1121.0,839.7 L1124.9,842.0 L1128.9,844.5 L1132.8,847.1 L1136.8,849.9 L1140.8,852.8 L1144.7,855.8 L1148.7,858.9 L1152.5,862.1 L1156.4,865.3 L1160.1,868.7 L1163.8,872.0 L1167.4,875.5 L1171.0,879.0 L1174.5,882.6 L1178.0,886.4 L1181.4,890.2 L1184.8,894.1 L1188.1,898.0 L1191.3,902.0 L1194.4,906.0 L1197.5,910.0 L1200.3,914.0 L1203.1,918.0 L1205.7,921.9 L1208.2,925.7 L1210.5,929.6 L1212.7,933.3 L1214.8,937.1 L1216.8,940.9 L1218.7,944.7 L1220.4,948.5 L1222.1,952.3 L1223.7,956.2 L1225.2,960.2 L1226.6,964.3 L1227.9,968.5 L1229.1,972.8 L1230.2,977.2 L1231.2,981.7 L1232.2,986.3 L1233.0,991.0 L1233.8,995.7 L1234.4,1000.4 L1234.9,1005.1 L1235.4,1009.7 L1235.7,1014.2 L1235.8,1018.6 L1235.9,1022.9 L1235.8,1027.1 L1235.6,1031.2 L1235.2,1035.2 L1234.8,1039.1 L1234.2,1043.0 L1233.5,1046.9 L1232.7,1050.7 L1231.9,1054.5 L1230.9,1058.2 L1230.0,1062.0 L1229.0,1065.7 L1227.9,1069.4 L1226.8,1073.2 L1225.6,1076.9 L1224.4,1080.6 L1223.2,1084.3 L1221.8,1087.9 L1220.5,1091.6 L1219.0,1095.1 L1217.4,1098.7 L1215.8,1102.2 L1214.1,1105.6 L1212.3,1109.0 L1210.4,1112.4 L1208.4,1115.6 L1206.3,1118.8 L1204.2,1122.0 L1201.9,1125.2 L1199.6,1128.2 L1197.2,1131.3 L1194.7,1134.2 L1192.1,1137.2 L1189.5,1140.0 L1186.9,1142.9 L1184.2,1145.6 L1181.4,1148.3 L1178.7,1151.0 L1175.8,1153.6 L1172.9,1156.1 L1170.0,1158.6 L1167.0,1161.1 L1163.9,1163.5 L1160.8,1165.8 L1157.6,1168.1 L1154.4,1170.3 L1151.1,1172.4 L1147.7,1174.4 L1144.2,1176.4 L1140.7,1178.3 L1137.0,1180.2 L1133.3,1182.0 L1129.5,1183.7 L1125.6,1185.4 L1121.6,1187.0 L1117.7,1188.5 L1113.7,1190.0 L1109.7,1191.3 L1105.7,1192.6 L1101.8,1193.8 L1097.8,1194.9 L1093.9,1195.8 L1090.0,1196.7 L1086.0,1197.5 L1082.0,1198.3 L1078.0,1198.9 L1074.1,1199.5 L1070.1,1199.9 L1066.2,1200.3 L1062.4,1200.6 L1058.7,1200.8 L1055.0,1200.8 L1051.5,1200.8 L1048.0,1200.7 L1044.5,1200.5 L1041.1,1200.1 L1037.8,1199.7 L1034.5,1199.1 L1031.3,1198.5 L1028.2,1197.8 L1025.2,1197.0 L1022.4,1196.2 L1019.6,1195.3 L1017.0,1194.4 L1014.6,1193.4 L1012.3,1192.4 L1010.1,1191.2 L1008.2,1190.0 L1006.3,1188.8 L1004.6,1187.5 L1002.9,1186.1 L1001.4,1184.7 L999.9,1183.2 L998.5,1181.7 L997.1,1180.2 L995.8,1178.7 L994.5,1177.1 L993.3,1175.5 L992.2,1174.0 L991.2,1172.3 L990.2,1170.7 L989.3,1169.0 L988.5,1167.2 L987.7,1165.5 L986.9,1163.7 L986.1,1162.0 L985.2,1160.2 L984.4,1158.5 L983.5,1156.7" stroke="#5e574c" stroke-width="1.3"/>
<path d="M974.0,859.6 L975.0,858.5 L976.0,857.2 L976.9,856.0 L977.9,854.8 L978.8,853.6 L979.8,852.4 L980.7,851.2 L981.7,850.1 L982.6,849.0 L983.6,848.0 L984.7,847.0 L985.7,846.0 L986.8,845.1 L987.9,844.2 L989.0,843.3 L990.2,842.5 L991.3,841.7 L992.5,840.9 L993.8,840.2 L995.1,839.4 L996.5,838.6 L998.1,837.8 L999.7,837.0 L1001.4,836.1 L1003.3,835.1 L1005.2,834.1 L1007.2,833.1 L1009.2,832.1 L1011.3,831.0 L1013.4,830.0 L1015.6,829.0 L1018.0,828.1 L1020.4,827.2 L1023.0,826.5 L1025.8,825.8 L1028.7,825.2 L1031.9,824.7 L1035.3,824.2 L1038.8,823.8 L1042.6,823.5 L1046.4,823.2 L1050.4,823.0 L1054.4,822.9 L1058.4,822.9 L1062.5,823.0 L1066.4,823.3 L1070.4,823.7 L1074.2,824.3 L1078.0,825.0 L1081.9,825.9 L1085.7,826.8 L1089.5,828.0 L1093.3,829.2 L1097.1,830.6 L1100.9,832.1 L1104.7,833.7 L1108.5,835.4 L1112.4,837.3 L1116.2,839.3 L1120.0,841.5 L1123.9,843.8 L1127.8,846.2 L1131.7,848.8 L1135.6,851.5 L1139.6,854.4 L1143.5,857.4 L1147.4,860.4 L1151.3,863.6 L1155.1,866.9 L1158.8,870.2 L1162.5,873.5 L1166.0,876.9 L1169.6,880.4 L1173.1,884.0 L1176.5,887.7 L1179.9,891.5 L1183.3,895.4 L1186.6,899.3 L1189.8,903.3 L1192.9,907.3 L1195.8,911.2 L1198.7,915.2 L1201.4,919.1 L1204.0,923.0 L1206.5,926.8 L1208.8,930.6 L1211.0,934.3 L1213.1,938.1 L1215.0,941.8 L1216.9,945.5 L1218.6,949.3 L1220.3,953.1 L1221.8,957.0 L1223.3,960.9 L1224.7,964.9 L1225.9,969.0 L1227.1,973.3 L1228.3,977.6 L1229.3,982.1 L1230.2,986.7 L1231.1,991.3 L1231.8,996.0 L1232.4,1000.6 L1233.0,1005.3 L1233.4,1009.8 L1233.7,1014.3 L1233.8,1018.7 L1233.9,1022.9 L1233.8,1027.0 L1233.6,1031.0 L1233.3,1035.0 L1232.8,1038.9 L1232.2,1042.7 L1231.5,1046.5 L1230.8,1050.3 L1229.9,1054.0 L1229.0,1057.7 L1228.0,1061.5 L1227.0,1065.2 L1226.0,1068.9 L1224.9,1072.6 L1223.7,1076.3 L1222.5,1079.9 L1221.3,1083.6 L1220.0,1087.2 L1218.6,1090.8 L1217.1,1094.4 L1215.6,1097.9 L1214.0,1101.3 L1212.3,1104.7 L1210.5,1108.1 L1208.7,1111.3 L1206.7,1114.6 L1204.7,1117.7 L1202.5,1120.9 L1200.3,1124.0 L1198.0,1127.0 L1195.6,1130.0 L1193.2,1132.9 L1190.6,1135.8 L1188.1,1138.7 L1185.4,1141.5 L1182.8,1144.2 L1180.1,1146.9 L1177.3,1149.5 L1174.5,1152.1 L1171.6,1154.6 L1168.7,1157.1 L1165.7,1159.5 L1162.7,1161.9 L1159.6,1164.2 L1156.5,1166.4 L1153.3,1168.6 L1150.0,1170.7 L1146.7,1172.7 L1143.3,1174.7 L1139.8,1176.6 L1136.1,1178.4 L1132.4,1180.2 L1128.7,1181.9 L1124.8,1183.6 L1120.9,1185.2 L1117.0,1186.7 L1113.0,1188.1 L1109.1,1189.4 L1105.1,1190.7 L1101.2,1191.9 L1097.3,1192.9 L1093.5,1193.9 L1089.6,1194.8 L1085.6,1195.6 L1081.7,1196.3 L1077.7,1196.9 L1073.8,1197.5 L1069.9,1197.9 L1066.1,1198.3 L1062.3,1198.6 L1058.6,1198.8 L1055.0,1198.8 L1051.5,1198.8 L1048.1,1198.7 L1044.7,1198.5 L1041.4,1198.1 L1038.1,1197.7 L1034.9,1197.2 L1031.8,1196.6 L1028.7,1195.9 L1025.8,1195.1 L1022.9,1194.3 L1020.3,1193.4 L1017.7,1192.5 L1015.3,1191.6 L1013.2,1190.6 L1011.1,1189.5 L1009.2,1188.4 L1007.5,1187.2 L1005.8,1185.9 L1004.2,1184.6 L1002.8,1183.2 L1001.3,1181.8 L1000.0,1180.3 L998.6,1178.9 L997.3,1177.4 L996.1,1175.9 L994.9,1174.4 L993.9,1172.8 L992.9,1171.3 L992.0,1169.7 L991.1,1168.1 L990.3,1166.4 L989.5,1164.6 L988.7,1162.9 L987.9,1161.1 L987.1,1159.4 L986.2,1157.6 L985.3,1155.8" stroke="#ffffff" stroke-width="2.8"/>
<path d="M976.6,861.8 L977.6,860.6 L978.6,859.4 L979.6,858.1 L980.6,856.9 L981.5,855.7 L982.4,854.5 L983.3,853.4 L984.2,852.3 L985.2,851.3 L986.1,850.4 L987.0,849.4 L988.0,848.5 L989.0,847.7 L990.0,846.8 L991.1,846.0 L992.1,845.3 L993.2,844.5 L994.3,843.8 L995.5,843.1 L996.8,842.3 L998.2,841.6 L999.6,840.8 L1001.2,840.0 L1003.0,839.1 L1004.8,838.2 L1006.8,837.2 L1008.7,836.1 L1010.7,835.1 L1012.7,834.1 L1014.8,833.1 L1017.0,832.2 L1019.2,831.3 L1021.5,830.5 L1023.9,829.8 L1026.5,829.1 L1029.3,828.6 L1032.4,828.1 L1035.7,827.6 L1039.2,827.2 L1042.9,826.9 L1046.6,826.6 L1050.5,826.4 L1054.4,826.3 L1058.4,826.3 L1062.3,826.4 L1066.1,826.7 L1069.9,827.1 L1073.7,827.6 L1077.4,828.3 L1081.1,829.2 L1084.8,830.1 L1088.5,831.2 L1092.2,832.4 L1095.9,833.8 L1099.6,835.2 L1103.3,836.8 L1107.1,838.5 L1110.8,840.4 L1114.6,842.3 L1118.3,844.4 L1122.1,846.7 L1125.9,849.1 L1129.8,851.6 L1133.7,854.3 L1137.5,857.1 L1141.4,860.1 L1145.3,863.1 L1149.1,866.2 L1152.8,869.4 L1156.5,872.7 L1160.1,876.0 L1163.7,879.4 L1167.2,882.8 L1170.6,886.4 L1174.0,890.0 L1177.4,893.8 L1180.7,897.6 L1183.9,901.5 L1187.1,905.4 L1190.2,909.3 L1193.1,913.2 L1195.9,917.2 L1198.6,921.0 L1201.2,924.8 L1203.6,928.6 L1205.9,932.3 L1208.0,936.0 L1210.1,939.7 L1212.0,943.3 L1213.8,947.0 L1215.5,950.7 L1217.1,954.4 L1218.7,958.2 L1220.1,962.0 L1221.4,966.0 L1222.7,970.0 L1223.9,974.2 L1225.0,978.4 L1226.0,982.8 L1226.9,987.3 L1227.7,991.9 L1228.4,996.5 L1229.1,1001.1 L1229.6,1005.6 L1230.0,1010.1 L1230.3,1014.5 L1230.4,1018.8 L1230.5,1022.9 L1230.4,1026.9 L1230.2,1030.8 L1229.9,1034.6 L1229.4,1038.4 L1228.9,1042.2 L1228.2,1045.9 L1227.4,1049.6 L1226.6,1053.2 L1225.7,1056.9 L1224.8,1060.6 L1223.7,1064.3 L1222.7,1067.9 L1221.6,1071.6 L1220.5,1075.2 L1219.3,1078.9 L1218.1,1082.5 L1216.8,1086.0 L1215.4,1089.6 L1214.0,1093.0 L1212.5,1096.5 L1210.9,1099.9 L1209.3,1103.2 L1207.6,1106.4 L1205.8,1109.6 L1203.8,1112.8 L1201.8,1115.9 L1199.8,1118.9 L1197.6,1121.9 L1195.3,1124.9 L1193.0,1127.9 L1190.6,1130.7 L1188.1,1133.6 L1185.6,1136.4 L1183.0,1139.1 L1180.4,1141.8 L1177.7,1144.5 L1175.0,1147.0 L1172.2,1149.6 L1169.4,1152.1 L1166.5,1154.5 L1163.6,1156.9 L1160.7,1159.2 L1157.6,1161.4 L1154.6,1163.6 L1151.4,1165.8 L1148.2,1167.8 L1145.0,1169.8 L1141.6,1171.7 L1138.2,1173.6 L1134.6,1175.4 L1131.0,1177.1 L1127.3,1178.8 L1123.5,1180.4 L1119.7,1182.0 L1115.8,1183.5 L1111.9,1184.9 L1108.0,1186.2 L1104.1,1187.4 L1100.3,1188.6 L1096.5,1189.6 L1092.7,1190.6 L1088.8,1191.5 L1085.0,1192.2 L1081.1,1192.9 L1077.2,1193.6 L1073.4,1194.1 L1069.6,1194.6 L1065.8,1194.9 L1062.1,1195.2 L1058.5,1195.4 L1055.0,1195.4 L1051.6,1195.4 L1048.3,1195.3 L1045.0,1195.1 L1041.8,1194.7 L1038.6,1194.3 L1035.5,1193.8 L1032.5,1193.2 L1029.5,1192.6 L1026.7,1191.8 L1023.9,1191.0 L1021.3,1190.2 L1018.9,1189.3 L1016.7,1188.4 L1014.7,1187.5 L1012.8,1186.5 L1011.1,1185.5 L1009.5,1184.4 L1007.9,1183.2 L1006.5,1182.0 L1005.1,1180.7 L1003.8,1179.4 L1002.4,1178.0 L1001.2,1176.6 L999.9,1175.2 L998.7,1173.7 L997.7,1172.4 L996.7,1171.0 L995.8,1169.5 L995.0,1168.1 L994.2,1166.5 L993.4,1164.9 L992.6,1163.2 L991.8,1161.5 L991.0,1159.7 L990.1,1157.9 L989.2,1156.1 L988.4,1154.3" stroke="#625b50" stroke-width="4.6"/>
<path d="M979.3,864.0 L980.3,862.7 L981.3,861.5 L982.3,860.2 L983.3,859.0 L984.2,857.8 L985.1,856.7 L986.0,855.6 L986.8,854.6 L987.7,853.6 L988.5,852.7 L989.3,851.9 L990.2,851.1 L991.2,850.3 L992.1,849.5 L993.1,848.8 L994.1,848.1 L995.1,847.4 L996.2,846.7 L997.3,846.0 L998.5,845.3 L999.8,844.6 L1001.2,843.8 L1002.8,843.0 L1004.5,842.1 L1006.4,841.2 L1008.3,840.2 L1010.3,839.2 L1012.3,838.1 L1014.2,837.1 L1016.2,836.2 L1018.3,835.3 L1020.4,834.5 L1022.5,833.7 L1024.8,833.0 L1027.2,832.4 L1029.9,831.9 L1032.9,831.4 L1036.1,831.0 L1039.5,830.6 L1043.1,830.2 L1046.9,830.0 L1050.6,829.8 L1054.5,829.7 L1058.3,829.7 L1062.1,829.8 L1065.8,830.1 L1069.5,830.5 L1073.1,831.0 L1076.7,831.7 L1080.2,832.5 L1083.8,833.4 L1087.5,834.5 L1091.1,835.6 L1094.7,836.9 L1098.3,838.4 L1102.0,839.9 L1105.6,841.6 L1109.3,843.4 L1112.9,845.3 L1116.6,847.4 L1120.3,849.6 L1124.1,851.9 L1127.9,854.4 L1131.7,857.1 L1135.5,859.8 L1139.3,862.7 L1143.1,865.7 L1146.9,868.8 L1150.6,872.0 L1154.3,875.2 L1157.8,878.5 L1161.3,881.8 L1164.7,885.2 L1168.1,888.7 L1171.5,892.3 L1174.8,896.0 L1178.1,899.8 L1181.3,903.6 L1184.4,907.5 L1187.5,911.4 L1190.4,915.3 L1193.2,919.1 L1195.8,922.9 L1198.3,926.7 L1200.7,930.4 L1202.9,934.1 L1205.1,937.7 L1207.1,941.3 L1209.0,944.9 L1210.7,948.5 L1212.4,952.1 L1214.0,955.7 L1215.5,959.4 L1216.9,963.2 L1218.2,967.0 L1219.4,971.0 L1220.6,975.0 L1221.6,979.2 L1222.6,983.6 L1223.5,988.0 L1224.4,992.5 L1225.1,997.0 L1225.7,1001.5 L1226.2,1006.0 L1226.6,1010.4 L1226.9,1014.7 L1227.0,1018.8 L1227.1,1022.9 L1227.0,1026.8 L1226.8,1030.6 L1226.5,1034.3 L1226.0,1038.0 L1225.5,1041.6 L1224.9,1045.2 L1224.1,1048.8 L1223.3,1052.5 L1222.4,1056.1 L1221.5,1059.7 L1220.5,1063.3 L1219.4,1067.0 L1218.4,1070.6 L1217.3,1074.2 L1216.1,1077.8 L1214.9,1081.3 L1213.6,1084.8 L1212.3,1088.3 L1210.9,1091.7 L1209.4,1095.1 L1207.9,1098.4 L1206.3,1101.6 L1204.6,1104.8 L1202.8,1107.9 L1201.0,1111.0 L1199.0,1114.0 L1197.0,1117.0 L1194.8,1119.9 L1192.6,1122.8 L1190.3,1125.7 L1188.0,1128.5 L1185.6,1131.3 L1183.1,1134.1 L1180.5,1136.8 L1178.0,1139.4 L1175.3,1142.0 L1172.7,1144.6 L1169.9,1147.0 L1167.2,1149.5 L1164.4,1151.9 L1161.5,1154.2 L1158.6,1156.5 L1155.6,1158.7 L1152.6,1160.8 L1149.5,1162.9 L1146.4,1164.9 L1143.2,1166.9 L1140.0,1168.7 L1136.6,1170.6 L1133.1,1172.3 L1129.6,1174.0 L1125.9,1175.7 L1122.2,1177.3 L1118.4,1178.8 L1114.6,1180.3 L1110.8,1181.7 L1106.9,1183.0 L1103.1,1184.2 L1099.4,1185.3 L1095.6,1186.3 L1091.9,1187.3 L1088.1,1188.1 L1084.3,1188.9 L1080.5,1189.6 L1076.7,1190.2 L1072.9,1190.7 L1069.2,1191.2 L1065.5,1191.5 L1061.9,1191.8 L1058.4,1192.0 L1054.9,1192.0 L1051.6,1192.0 L1048.4,1191.9 L1045.3,1191.7 L1042.2,1191.4 L1039.1,1191.0 L1036.1,1190.5 L1033.1,1189.9 L1030.3,1189.3 L1027.6,1188.6 L1024.9,1187.8 L1022.4,1187.0 L1020.1,1186.2 L1018.0,1185.3 L1016.2,1184.5 L1014.5,1183.6 L1012.9,1182.6 L1011.4,1181.6 L1010.1,1180.6 L1008.7,1179.5 L1007.5,1178.3 L1006.2,1177.0 L1004.9,1175.7 L1003.7,1174.4 L1002.5,1173.0 L1001.4,1171.6 L1000.4,1170.3 L999.5,1169.1 L998.7,1167.8 L997.9,1166.4 L997.2,1165.0 L996.4,1163.4 L995.7,1161.8 L994.9,1160.1 L994.1,1158.3 L993.2,1156.4 L992.3,1154.6 L991.4,1152.8" stroke="#fbf7f2" stroke-width="2.8"/>
<path d="M980.7,865.2 L981.7,863.9 L982.8,862.7 L983.8,861.4 L984.7,860.2 L985.7,859.0 L986.6,857.8 L987.4,856.8 L988.2,855.8 L989.1,854.9 L989.8,854.1 L990.6,853.3 L991.5,852.5 L992.4,851.8 L993.3,851.0 L994.2,850.3 L995.2,849.6 L996.1,849.0 L997.2,848.3 L998.2,847.6 L999.4,847.0 L1000.7,846.3 L1002.1,845.5 L1003.6,844.7 L1005.4,843.8 L1007.3,842.9 L1009.2,841.9 L1011.2,840.8 L1013.1,839.8 L1015.1,838.9 L1017.0,837.9 L1019.0,837.1 L1021.0,836.3 L1023.1,835.5 L1025.3,834.9 L1027.7,834.3 L1030.3,833.8 L1033.2,833.3 L1036.3,832.9 L1039.7,832.5 L1043.3,832.1 L1047.0,831.9 L1050.7,831.7 L1054.5,831.6 L1058.3,831.6 L1062.0,831.7 L1065.7,832.0 L1069.3,832.3 L1072.8,832.9 L1076.3,833.5 L1079.8,834.3 L1083.3,835.2 L1086.9,836.3 L1090.5,837.4 L1094.0,838.7 L1097.6,840.1 L1101.2,841.7 L1104.8,843.3 L1108.4,845.1 L1112.0,847.0 L1115.7,849.0 L1119.4,851.2 L1123.1,853.5 L1126.8,856.0 L1130.6,858.6 L1134.4,861.4 L1138.2,864.2 L1141.9,867.2 L1145.7,870.3 L1149.4,873.4 L1153.0,876.6 L1156.5,879.9 L1160.0,883.2 L1163.4,886.5 L1166.7,890.0 L1170.1,893.6 L1173.4,897.3 L1176.6,901.0 L1179.8,904.8 L1182.9,908.7 L1185.9,912.5 L1188.8,916.4 L1191.6,920.2 L1194.2,924.0 L1196.7,927.7 L1199.1,931.4 L1201.3,935.1 L1203.4,938.6 L1205.4,942.2 L1207.3,945.8 L1209.0,949.3 L1210.7,952.9 L1212.2,956.5 L1213.7,960.1 L1215.1,963.8 L1216.4,967.6 L1217.6,971.5 L1218.7,975.5 L1219.8,979.7 L1220.8,984.0 L1221.7,988.3 L1222.5,992.8 L1223.2,997.2 L1223.8,1001.7 L1224.3,1006.1 L1224.7,1010.5 L1225.0,1014.8 L1225.1,1018.9 L1225.2,1022.9 L1225.1,1026.7 L1224.9,1030.4 L1224.6,1034.1 L1224.2,1037.7 L1223.6,1041.3 L1223.0,1044.9 L1222.3,1048.4 L1221.4,1052.0 L1220.6,1055.6 L1219.6,1059.2 L1218.6,1062.8 L1217.6,1066.5 L1216.6,1070.1 L1215.4,1073.6 L1214.3,1077.2 L1213.1,1080.7 L1211.8,1084.2 L1210.5,1087.6 L1209.1,1091.0 L1207.7,1094.3 L1206.2,1097.6 L1204.6,1100.8 L1202.9,1103.9 L1201.2,1106.9 L1199.4,1109.9 L1197.4,1112.9 L1195.4,1115.9 L1193.3,1118.8 L1191.1,1121.7 L1188.9,1124.5 L1186.5,1127.3 L1184.1,1130.1 L1181.7,1132.8 L1179.2,1135.5 L1176.6,1138.1 L1174.0,1140.6 L1171.4,1143.2 L1168.7,1145.6 L1165.9,1148.1 L1163.1,1150.4 L1160.3,1152.7 L1157.4,1155.0 L1154.5,1157.2 L1151.5,1159.3 L1148.5,1161.3 L1145.4,1163.3 L1142.3,1165.2 L1139.0,1167.1 L1135.7,1168.9 L1132.3,1170.6 L1128.8,1172.3 L1125.1,1174.0 L1121.4,1175.5 L1117.7,1177.1 L1113.9,1178.5 L1110.1,1179.9 L1106.3,1181.2 L1102.6,1182.4 L1098.8,1183.5 L1095.1,1184.5 L1091.4,1185.4 L1087.7,1186.3 L1084.0,1187.0 L1080.2,1187.7 L1076.4,1188.3 L1072.7,1188.8 L1069.0,1189.3 L1065.3,1189.6 L1061.8,1189.9 L1058.3,1190.1 L1054.9,1190.1 L1051.7,1190.1 L1048.5,1190.0 L1045.4,1189.8 L1042.4,1189.5 L1039.4,1189.1 L1036.4,1188.6 L1033.5,1188.0 L1030.7,1187.4 L1028.1,1186.7 L1025.5,1186.0 L1023.1,1185.2 L1020.8,1184.4 L1018.8,1183.6 L1017.0,1182.7 L1015.4,1181.9 L1013.9,1181.0 L1012.6,1180.1 L1011.2,1179.1 L1010.0,1178.0 L1008.8,1176.9 L1007.5,1175.7 L1006.3,1174.4 L1005.1,1173.1 L1004.0,1171.7 L1002.9,1170.4 L1001.9,1169.2 L1001.1,1168.0 L1000.4,1166.8 L999.6,1165.5 L998.9,1164.1 L998.1,1162.6 L997.4,1161.0 L996.6,1159.3 L995.8,1157.5 L994.9,1155.6 L994.0,1153.8 L993.1,1152.0" stroke="#1e1c19" stroke-width="1.4"/>
<path d="M1227.5,1094.4 L1226.0,1098.1 L1224.4,1101.8 L1222.7,1105.5 L1220.9,1109.1 L1219.0,1112.7 L1217.0,1116.2 L1214.9,1119.7 L1212.7,1123.1 L1210.4,1126.4 L1208.0,1129.7 L1205.6,1132.9 L1203.1,1136.1 L1200.5,1139.2 L1197.8,1142.2 L1195.1,1145.2 L1192.4,1148.1" stroke="#8b8472" stroke-width="9" opacity="0.7"/>
<path d="M1195.3,1145.3 L1192.5,1148.3 L1189.7,1151.1 L1186.9,1153.9 L1184.0,1156.7 L1181.0,1159.4 L1178.0,1162.0 L1175.0,1164.6 L1171.9,1167.2 L1168.7,1169.7 L1165.4,1172.1 L1162.1,1174.5 L1158.7,1176.8 L1155.2,1179.0 L1151.7,1181.2 L1148.0,1183.2 L1144.3,1185.3 L1140.5,1187.2 L1136.6,1189.1 L1132.6,1190.9 L1128.6,1192.6 L1124.5,1194.3 L1120.4,1195.9 L1116.3,1197.3 L1112.1,1198.8 L1108.0,1200.1 L1103.9,1201.3 L1099.8,1202.4 L1095.7,1203.4 L1091.6,1204.4 L1087.5,1205.2 L1083.3,1206.0 L1079.2,1206.6 L1075.1,1207.2 L1070.9,1207.7 L1066.9,1208.1 L1062.9,1208.4 L1059.0,1208.5 L1055.1,1208.6 L1051.3,1208.6 L1047.6,1208.5 L1043.9,1208.2 L1040.2,1207.9 L1036.7,1207.4 L1033.2,1206.8 L1029.7,1206.1 L1026.4,1205.4 L1023.2,1204.6 L1020.1,1203.7 L1017.1,1202.7 L1014.2,1201.7 L1011.5,1200.6 L1008.8,1199.4 L1006.3,1198.0 L1004.0,1196.6 L1001.8,1195.1 L999.7,1193.5 L997.8,1191.9 L996.0,1190.3 L994.3,1188.6 L992.8,1187.0 L991.3,1185.3 L989.8,1183.7 L988.4,1182.0 L987.0,1180.2 L985.7,1178.3 L984.5,1176.3 L983.4,1174.4 L982.4,1172.5 L981.5,1170.6 L980.6,1168.8 L979.8,1167.0 L979.0,1165.2 L978.2,1163.6 L977.4,1161.9 L976.6,1160.2" stroke="#1b1e22" stroke-width="9"/>
<path d="M1191.6,1141.9 L1188.9,1144.8 L1186.2,1147.6 L1183.4,1150.3 L1180.6,1153.0 L1177.7,1155.7 L1174.8,1158.3 L1171.8,1160.8 L1168.7,1163.3 L1165.6,1165.7 L1162.5,1168.1 L1159.2,1170.4 L1155.9,1172.6 L1152.6,1174.8 L1149.1,1176.9 L1145.6,1178.9 L1142.0,1180.8 L1138.3,1182.7 L1134.5,1184.5 L1130.6,1186.3 L1126.7,1188.0 L1122.7,1189.6 L1118.6,1191.2 L1114.6,1192.6 L1110.6,1194.0 L1106.5,1195.3 L1102.5,1196.5 L1098.6,1197.6 L1094.6,1198.6 L1090.6,1199.5 L1086.5,1200.3 L1082.5,1201.0 L1078.4,1201.7 L1074.4,1202.2 L1070.4,1202.7 L1066.5,1203.1 L1062.6,1203.4 L1058.8,1203.6 L1055.1,1203.6 L1051.4,1203.6 L1047.8,1203.5 L1044.3,1203.2 L1040.8,1202.9 L1037.4,1202.4 L1034.0,1201.9 L1030.8,1201.3 L1027.6,1200.5 L1024.5,1199.7 L1021.5,1198.9 L1018.7,1198.0 L1016.0,1197.0 L1013.5,1196.0 L1011.0,1194.9 L1008.8,1193.7 L1006.7,1192.4 L1004.7,1191.1 L1002.8,1189.6 L1001.1,1188.2 L999.4,1186.7 L997.9,1185.1 L996.4,1183.6 L995.0,1182.0 L993.7,1180.5 L992.3,1178.9 L991.1,1177.2 L989.9,1175.5 L988.8,1173.8 L987.8,1172.0 L986.8,1170.2 L986.0,1168.4 L985.1,1166.7 L984.3,1164.9 L983.5,1163.1 L982.7,1161.4 L981.9,1159.7 L981.0,1158.0" stroke="#ffffff" stroke-width="2.2"/>
<path d="M1189.3,1139.8 L1186.6,1142.6 L1183.9,1145.3 L1181.2,1148.0 L1178.4,1150.7 L1175.6,1153.3 L1172.7,1155.8 L1169.7,1158.3 L1166.7,1160.8 L1163.7,1163.2 L1160.6,1165.5 L1157.4,1167.7 L1154.2,1169.9 L1150.9,1172.0 L1147.5,1174.1 L1144.0,1176.1 L1140.5,1178.0 L1136.9,1179.8 L1133.1,1181.6 L1129.3,1183.4 L1125.4,1185.1 L1121.5,1186.6 L1117.5,1188.2 L1113.5,1189.6 L1109.6,1191.0 L1105.6,1192.2 L1101.7,1193.4 L1097.7,1194.5 L1093.8,1195.4 L1089.9,1196.3 L1085.9,1197.1 L1081.9,1197.9 L1078.0,1198.5 L1074.0,1199.1 L1070.1,1199.5 L1066.2,1199.9 L1062.4,1200.2 L1058.7,1200.4 L1055.0,1200.4 L1051.5,1200.4 L1048.0,1200.3 L1044.6,1200.1 L1041.2,1199.7 L1037.9,1199.3 L1034.6,1198.7 L1031.4,1198.1 L1028.3,1197.4 L1025.3,1196.7 L1022.5,1195.8 L1019.7,1194.9 L1017.1,1194.0 L1014.7,1193.0 L1012.5,1192.0 L1010.3,1190.9 L1008.4,1189.7 L1006.5,1188.5 L1004.8,1187.1 L1003.2,1185.8 L1001.7,1184.4 L1000.2,1182.9 L998.8,1181.4 L997.4,1179.9 L996.1,1178.4 L994.8,1176.9 L993.6,1175.3 L992.5,1173.7 L991.5,1172.1 L990.6,1170.5 L989.7,1168.8 L988.9,1167.1 L988.0,1165.3 L987.2,1163.6 L986.4,1161.8 L985.6,1160.0 L984.8,1158.3 L983.9,1156.6" stroke="#7f7a6e" stroke-width="4.4"/>
<path d="M1186.9,1137.6 L1184.3,1140.4 L1181.6,1143.1 L1178.9,1145.7 L1176.2,1148.4 L1173.4,1150.9 L1170.6,1153.4 L1167.7,1155.9 L1164.7,1158.3 L1161.7,1160.6 L1158.7,1162.9 L1155.6,1165.1 L1152.4,1167.3 L1149.2,1169.3 L1145.9,1171.3 L1142.5,1173.3 L1139.0,1175.2 L1135.4,1177.0 L1131.8,1178.7 L1128.0,1180.5 L1124.2,1182.1 L1120.3,1183.7 L1116.4,1185.2 L1112.5,1186.6 L1108.6,1187.9 L1104.7,1189.2 L1100.8,1190.3 L1096.9,1191.4 L1093.1,1192.3 L1089.2,1193.2 L1085.3,1194.0 L1081.4,1194.7 L1077.5,1195.3 L1073.6,1195.9 L1069.7,1196.3 L1065.9,1196.7 L1062.2,1197.0 L1058.5,1197.2 L1055.0,1197.2 L1051.5,1197.2 L1048.2,1197.1 L1044.8,1196.9 L1041.6,1196.5 L1038.3,1196.1 L1035.2,1195.6 L1032.1,1195.0 L1029.1,1194.3 L1026.2,1193.6 L1023.4,1192.8 L1020.8,1191.9 L1018.3,1191.0 L1016.0,1190.1 L1013.9,1189.1 L1011.9,1188.1 L1010.1,1187.0 L1008.4,1185.9 L1006.8,1184.6 L1005.3,1183.4 L1003.9,1182.0 L1002.5,1180.7 L1001.1,1179.3 L999.8,1177.8 L998.5,1176.3 L997.3,1174.9 L996.2,1173.4 L995.2,1172.0 L994.3,1170.5 L993.4,1168.9 L992.5,1167.3 L991.7,1165.7 L990.9,1164.0 L990.1,1162.2 L989.3,1160.5 L988.5,1158.7 L987.6,1156.9 L986.8,1155.1" stroke="#ffffff" stroke-width="2.2"/>
<path d="M1183.8,1134.8 L1181.3,1137.5 L1178.7,1140.1 L1176.0,1142.7 L1173.3,1145.3 L1170.6,1147.8 L1167.8,1150.2 L1165.0,1152.6 L1162.1,1155.0 L1159.2,1157.3 L1156.2,1159.5 L1153.2,1161.7 L1150.1,1163.8 L1146.9,1165.8 L1143.7,1167.7 L1140.4,1169.6 L1137.1,1171.4 L1133.6,1173.2 L1130.0,1174.9 L1126.3,1176.6 L1122.6,1178.2 L1118.8,1179.8 L1114.9,1181.2 L1111.1,1182.6 L1107.3,1183.9 L1103.4,1185.2 L1099.6,1186.3 L1095.9,1187.3 L1092.1,1188.2 L1088.3,1189.1 L1084.5,1189.9 L1080.7,1190.6 L1076.9,1191.2 L1073.1,1191.7 L1069.3,1192.2 L1065.6,1192.5 L1061.9,1192.8 L1058.4,1193.0 L1055.0,1193.0 L1051.6,1193.0 L1048.4,1192.9 L1045.2,1192.7 L1042.1,1192.4 L1039.0,1192.0 L1035.9,1191.5 L1032.9,1190.9 L1030.1,1190.2 L1027.3,1189.5 L1024.6,1188.7 L1022.1,1187.9 L1019.8,1187.1 L1017.6,1186.2 L1015.7,1185.4 L1014.0,1184.4 L1012.4,1183.5 L1010.9,1182.4 L1009.4,1181.4 L1008.1,1180.2 L1006.8,1179.0 L1005.5,1177.7 L1004.2,1176.4 L1003.0,1175.0 L1001.8,1173.6 L1000.6,1172.2 L999.6,1170.9 L998.7,1169.6 L997.9,1168.3 L997.1,1166.9 L996.3,1165.4 L995.5,1163.9 L994.8,1162.2 L994.0,1160.5 L993.1,1158.7 L992.3,1156.9 L991.4,1155.0 L990.5,1153.3" stroke="#b5ab92" stroke-width="6.6"/>
</g></g>
<g>
<g fill="none">
<rect x="1566" y="834" width="84" height="366" rx="42" stroke="#1b1c1e" stroke-width="24.5"/>
<rect x="1648" y="834" width="84" height="366" rx="42" stroke="#1b1c1e" stroke-width="24.5"/>
<rect x="1566" y="834" width="84" height="366" rx="42" stroke="#2c2d30" stroke-width="9"/>
<rect x="1648" y="834" width="84" height="366" rx="42" stroke="#2c2d30" stroke-width="9"/>
<rect x="1566" y="834" width="84" height="366" rx="42" stroke="#3d3e42" stroke-width="1.6" opacity="0.8"/>
<rect x="1648" y="834" width="84" height="366" rx="42" stroke="#3d3e42" stroke-width="1.6" opacity="0.8"/>
</g>
<path d="M1578,1156 L1720,1156 L1720,1186 L1578,1186 Z" fill="#121315"/>
<use href="#strapArt" clip-path="url(#sliderInner)"/>
<rect x="1578" y="856" width="9" height="298" fill="#000" opacity="0.13" filter="url(#b2)"/>
<rect x="1711" y="856" width="9" height="298" fill="#000" opacity="0.10" filter="url(#b2)"/>
<g fill="none">
<path d="M1566,870 L1566,1160" stroke="#1b1c1e" stroke-width="24.5"/>
<path d="M1732,870 L1732,1160" stroke="#1b1c1e" stroke-width="24.5"/>
<path d="M1566,870 L1566,1160" stroke="#2c2d30" stroke-width="9"/>
<path d="M1732,870 L1732,1160" stroke="#2c2d30" stroke-width="9"/>
<path d="M1566,870 L1566,1160" stroke="#3d3e42" stroke-width="1.6" opacity="0.8"/>
<path d="M1732,870 L1732,1160" stroke="#3d3e42" stroke-width="1.6" opacity="0.8"/>
</g>
</g>
<g fill="#3a3a3a" stroke="none">
<rect x="897" y="258" width="4.6" height="534"/>
<rect x="899" y="793.2" width="167" height="4.6"/>
<circle cx="898" cy="257.5" r="18"/>
<circle cx="899" cy="791" r="18"/>
<circle cx="1065.5" cy="790" r="18"/>
<rect x="1641" y="1223" width="4.8" height="260"/>
<polygon points="1044,1483.7 1640,1481.7 1640,1486.3 1044,1488.3"/>
<circle cx="1641.8" cy="1223" r="18"/>
<circle cx="1639.5" cy="1482.3" r="18"/>
<circle cx="1043.8" cy="1486.4" r="18"/>
</g>
<g class="t1" font-size="103.5">
<text x="968.6" y="283.8" textLength="437.6" lengthAdjust="spacingAndGlyphs">CHROME</text>
<text x="1433.2" y="283.8" textLength="360.9" lengthAdjust="spacingAndGlyphs">D-RING</text>
</g>
<g class="t2" font-size="49.5">
<text x="975.4" y="364.9" textLength="67.5" lengthAdjust="spacingAndGlyphs">TO</text>
<text x="1057.5" y="364.9" textLength="200.9" lengthAdjust="spacingAndGlyphs">ATTACH</text>
<text x="1275.3" y="364.9" textLength="166.3" lengthAdjust="spacingAndGlyphs">LEASH</text>
<text x="1458.6" y="364.9" textLength="113.8" lengthAdjust="spacingAndGlyphs">AND</text>
<text x="1587.7" y="364.9" textLength="131.7" lengthAdjust="spacingAndGlyphs">TAGS</text>
</g>
<g class="t1" font-size="103.5">
<text x="486.6" y="1610.2" textLength="477.5" lengthAdjust="spacingAndGlyphs">NON-SLIP</text>
<text x="990.6" y="1610.2" textLength="333.5" lengthAdjust="spacingAndGlyphs">METAL</text>
<text x="1350.4" y="1610.2" textLength="271.9" lengthAdjust="spacingAndGlyphs">LOOP</text>
</g>
<g class="t2" font-size="49.5">
<text x="486.9" y="1697.5" textLength="64.2" lengthAdjust="spacingAndGlyphs">TO</text>
<text x="571.9" y="1697.5" textLength="173.5" lengthAdjust="spacingAndGlyphs">EASILY</text>
<text x="760.8" y="1697.5" textLength="202.8" lengthAdjust="spacingAndGlyphs">ADJUST</text>
<text x="982.5" y="1697.5" textLength="107.3" lengthAdjust="spacingAndGlyphs">SIZE</text>
</g>
</svg>
</body>
</html>
